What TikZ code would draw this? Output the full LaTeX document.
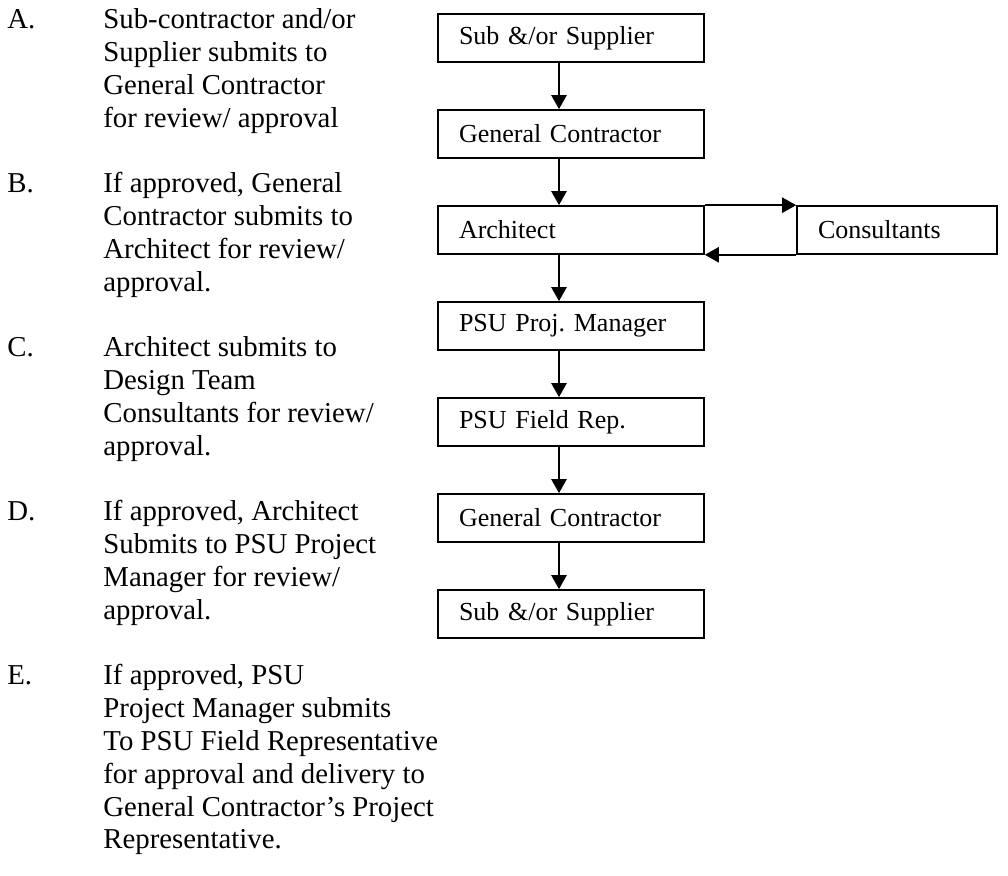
\documentclass[tikz,border=0pt]{standalone}
\usepackage{fontspec}
\setmainfont{Liberation Serif}
\usetikzlibrary{positioning,arrows.meta}

\begin{document}
\begin{tikzpicture}[x=0.5pt,y=-0.5pt,node distance=48pt,on grid,
  box/.style={draw,line width=0.8pt,text width=112pt,inner xsep=10.5pt,minimum height=24pt,align=left,font=\fontsize{13}{15}\selectfont},
  para/.style={anchor=base west,align=left,inner sep=0pt,font=\fontsize{14.4}{16.4}\selectfont},
  flow/.style={line width=1.2pt,-{Triangle[length=7pt,width=7.5pt]}}]
\useasboundingbox (0,0) rectangle (1008,876);

% steps on the left (a paragraph sits on its last baseline)
\node[para] (la) at (7,29) {A.};
\node[para] (ta) at (103,127.4) {Sub-contractor and/or\\Supplier submits to\\General Contractor\\for review/ approval};
\node[para] (lb) at (7,193) {B.};
\node[para] (tb) at (103,291.4) {If approved, General\\Contractor submits to\\Architect for review/\\approval.};
\node[para] (lc) at (7,357) {C.};
\node[para] (tc) at (103,455.4) {Architect submits to\\Design Team\\Consultants for review/\\approval.};
\node[para] (ld) at (7,521) {D.};
\node[para] (td) at (103,619.4) {If approved, Architect\\Submits to PSU Project\\Manager for review/\\approval.};
\node[para] (le) at (7,685) {E.};
\node[para] (te) at (103,849) {If approved, PSU\\Project Manager submits\\To PSU Field Representative\\for approval and delivery to\\General Contractor’s Project\\Representative.};

% flow chart
\node[box] (sub1) at (571,38) {Sub \&/or Supplier};
\node[box] (gc1) [below=of sub1] {General Contractor};
\node[box] (arch) [below=of gc1] {Architect};
\node[box,text width=79pt] (cons) [right=163pt of arch] {Consultants};
\node[box] (pm) [below=of arch] {PSU Proj.\ Manager};
\node[box] (rep) [below=of pm] {PSU Field Rep.};
\node[box] (gc2) [below=of rep] {General Contractor};
\node[box] (sub2) [below=of gc2] {Sub \&/or Supplier};

\draw[flow] ([xshift=-6pt]sub1.south) -- ([xshift=-6pt]gc1.north);
\draw[flow] ([xshift=-6pt]gc1.south) -- ([xshift=-6pt]arch.north);
\draw[flow] ([xshift=-6pt]arch.south) -- ([xshift=-6pt]pm.north);
\draw[flow] ([xshift=-6pt]pm.south) -- ([xshift=-6pt]rep.north);
\draw[flow] ([xshift=-6pt]rep.south) -- ([xshift=-6pt]gc2.north);
\draw[flow] ([xshift=-6pt]gc2.south) -- ([xshift=-6pt]sub2.north);
\draw[flow] (arch.north east) -- (cons.north west);
\draw[flow] (cons.south west) -- (arch.south east);
\end{tikzpicture}
\end{document}
